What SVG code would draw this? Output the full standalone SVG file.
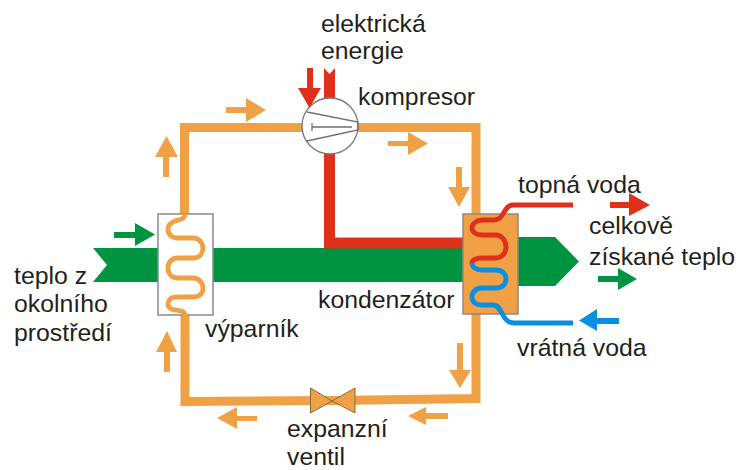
<svg xmlns="http://www.w3.org/2000/svg" width="736" height="470" viewBox="0 0 736 470">
<style>
text{font-family:"Liberation Sans",Arial,sans-serif;font-size:24.800px;fill:#231f20}
.pipe{fill:none;stroke:#f0a045;stroke-width:9}
.coil{fill:none;stroke-width:4.800;stroke-linecap:butt}
.box{stroke:#8a8a8a;stroke-width:1.500}
.o{fill:#f0a045}.r{fill:#e1301a}.g{fill:#009440}.b{fill:#0a90e0}
</style>
<rect width="736" height="470" fill="#fff"/>
<g id="heat-flow"><path class="g" d="M93 248H463V237H555L579 261.500L555 286H463V282H93L107 265Z"/></g>
<g id="connectors">
<path class="pipe" d="M184.500 214V127.500H476V214M476 314V398.500L332 400.500L185 401.500V315"/>
<path d="M329.500 100V243H463" fill="none" stroke="#e1301a" stroke-width="11"/>
<path class="r" d="M324 68L329.500 74L335 68V100H324Z"/>
</g>
<g id="evaporator">
<rect class="box" x="158" y="214" width="55" height="101" fill="#fff"/>
<path class="coil" stroke="#f0a045" d="M185 214C185 220 178 220 175 221C170 223 168 226 168 229C168 235 172 238 178 238H193C199 238 203 243 203 248C203 254 199 258 193 258H178C172 258 168 262 168 268C168 274 172 278 178 278H193C199 278 203 283 203 288C203 294 199 297 193 297H176C171 297 168 300 168 304C168 308 172 310 176 310C181 311 185 311 185 316"/>
</g>
<g id="condenser">
<rect class="box" x="463" y="214" width="55" height="100" fill="#f0a045"/>
<path class="coil" stroke="#e1301a" d="M573 205H513C503 205 505 220 494 220H483C476 220 472 224 472 228C472 232 476 235 482 235H496C502 235 506 241 506 247C506 253 502 258 496 258H482C476 258 472 260 472 263"/>
<path class="coil" stroke="#0a90e0" d="M472 263C472 267 476 270 482 270H496C502 270 506 274 506 279C506 284 502 288 496 288H482C476 288 472 292 472 297C472 302 476 305 482 305H493C503 305 501 323 514 323H573"/>
</g>
<g id="compressor">
<circle cx="330" cy="126" r="28" fill="#fff" stroke="#7a7a7a" stroke-width="1.300"/>
<path d="M307 112L358 122V130L307 141M312 127H352M312 123V131" fill="none" stroke="#6f6f6f" stroke-width="1.300"/>
</g>
<g id="valve"><path class="o" d="M310.500 388L332 401L310.500 413ZM355 388L332 401L355 413Z" stroke="#8a6a3a" stroke-width="1"/></g>
<g id="flow-arrows">
<path class="o" d="M226 107H246V98L266 110L246 122V113H226Z"/>
<path class="o" d="M388 141H408V132L428 143.500L408 155V146H388Z"/>
<path class="o" d="M456 167H462V187H470L459 207L448 187H456Z"/>
<path class="o" d="M457 343H463V370H471L460 388L449 370H457Z"/>
<path class="o" d="M448 419V413H426V407L408 416L426 425V419Z"/>
<path class="o" d="M257 421V416H237V407L217 418L237 429V421Z"/>
<path class="o" d="M163 177H169V157H178L166.500 136L155 157H163Z"/>
<path class="o" d="M164 372H170V352H177L167 331L156 352H164Z"/>
<path class="r" d="M307 68H313V88H321L309.500 108L298 88H307Z"/>
<path class="r" d="M610 202V208H629V216L650 205L629 193V202Z"/>
<path class="g" d="M114 232H135V223L155 234.500L135 246V238H114Z"/>
<path class="g" d="M598 276H618V268L637 279L618 290V282H598Z"/>
<path class="b" d="M619 318V324H597V331L579 320.500L597 309V318Z"/>
</g>
<g id="labels">
<text x="321" y="32">elektrická</text>
<text x="321" y="59">energie</text>
<text x="358" y="105">kompresor</text>
<text x="518" y="193">topná voda</text>
<text x="589" y="234">celkově</text>
<text x="589" y="265">získané teplo</text>
<text x="14" y="284">teplo z</text>
<text x="14" y="312">okolního</text>
<text x="14" y="341">prostředí</text>
<text x="205" y="337">výparník</text>
<text x="318" y="308">kondenzátor</text>
<text x="517" y="356">vrátná voda</text>
<text x="287" y="436.800">expanzní</text>
<text x="287" y="464.600">ventil</text>
</g>
</svg>
